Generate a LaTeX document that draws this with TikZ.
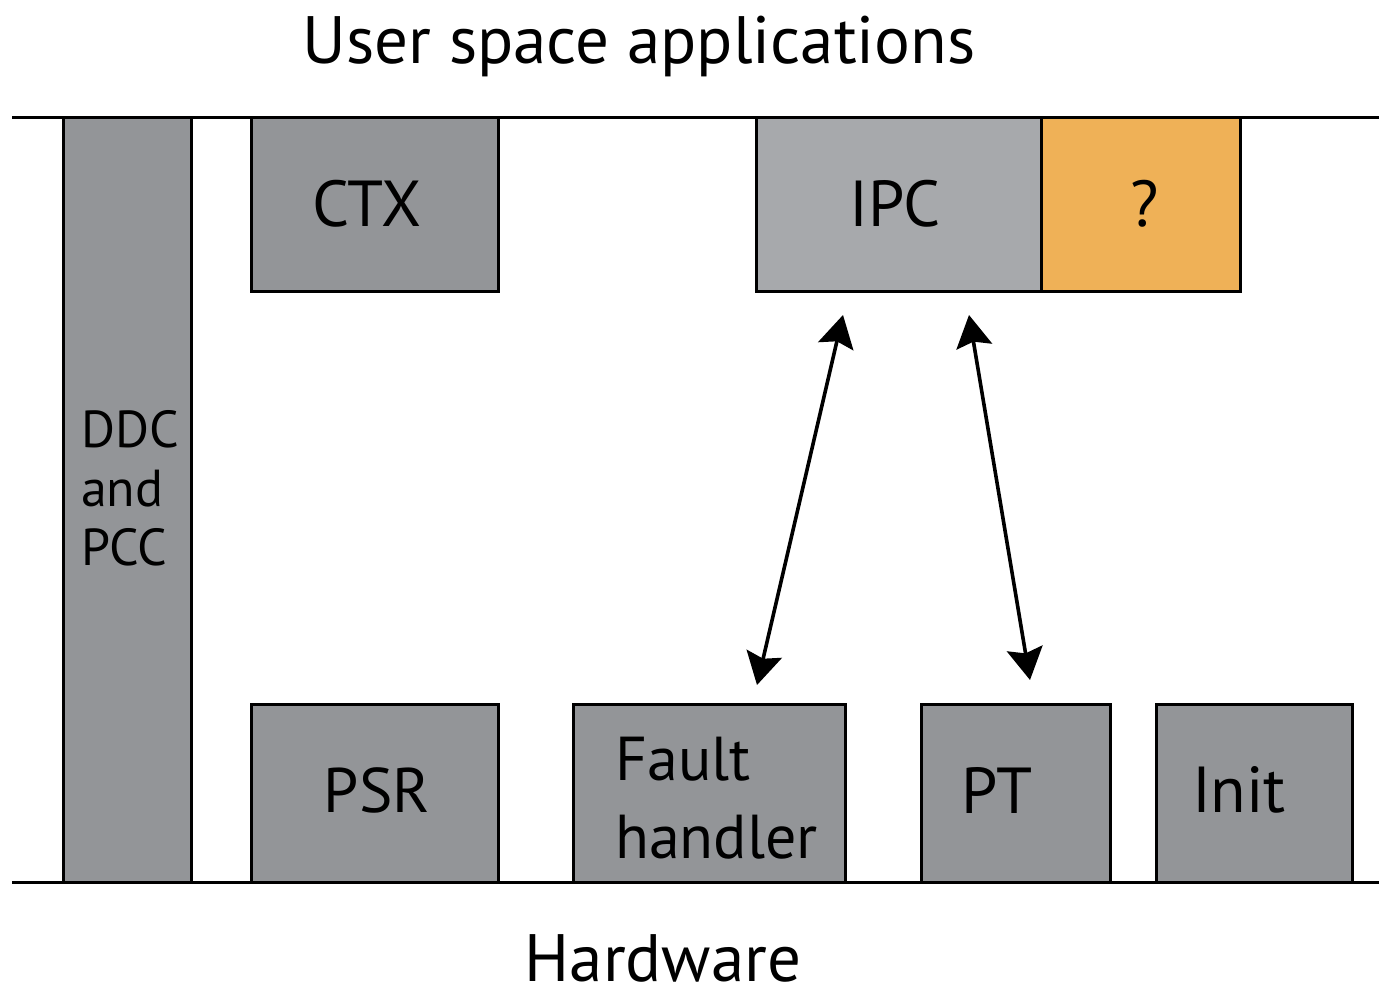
\documentclass[tikz,border=0pt]{standalone}
\usepackage{fontspec}
\setmainfont{PT Sans}
\usetikzlibrary{arrows.meta}
\definecolor{boxgray}{HTML}{939598}
\definecolor{lightgray}{HTML}{A7A9AC}
\definecolor{amber}{HTML}{EFB157}
\tikzset{
  blk/.style={draw=black, line width=3pt, fill=boxgray, inner sep=0pt, outer sep=0pt, anchor=north west},
  lbl/.style={font=\fontsize{65}{68}\selectfont, inner sep=0pt, text=black},
  rail/.style={line width=3pt},
  ipclink/.style={line width=3.6pt, arrows={Stealth[length=32pt,width=36pt,inset=5pt]-Stealth[length=32pt,width=36pt,inset=5pt]}}
}
\begin{document}
\begin{tikzpicture}[x=1pt, y=-1pt]
  \useasboundingbox (0,0) rectangle (1379,989);
  % boxes
  \node[blk, minimum width=128pt, minimum height=765pt] (ddc) at (63,117) {};
  \node[blk, minimum width=247pt, minimum height=174pt] (ctx) at (251,117) {};
  \node[blk, fill=lightgray, minimum width=285pt, minimum height=174pt] (ipc) at (756,117) {};
  \node[blk, fill=amber, minimum width=199pt, minimum height=174pt] (unk) at (1041,117) {};
  \node[blk, minimum width=247pt, minimum height=178pt] (psr) at (251,704) {};
  \node[blk, minimum width=272pt, minimum height=178pt] (fault) at (573,704) {};
  \node[blk, minimum width=189pt, minimum height=178pt] (pt) at (921,704) {};
  \node[blk, minimum width=196pt, minimum height=178pt] (init) at (1156,704) {};
  % kernel boundaries
  \draw[rail] (12,117) coordinate (topL) -- (1379,117) coordinate (topR);
  \draw[rail] (12,882) coordinate (botL) -- (1379,882) coordinate (botR);
  % labels
  \node[lbl] (ctxt) at (367,204) {CTX};
  \node[lbl] (ipct) at (895,204) {IPC};
  \node[lbl] (unkt) at (1145,204) {?};
  \node[lbl, font=\fontsize{63}{66}\selectfont] (psrt) at (377,790) {PSR};
  \node[lbl] (ptt) at (997,790) {PT};
  \node[lbl] (initt) at (1239,790) {Init};
  \node[lbl, anchor=west, align=left, font=\fontsize{62}{78}\selectfont] (faultt) at (615,798) {Fault\\handler};
  \node[anchor=west, align=left, inner sep=0pt, font=\fontsize{52}{59}\selectfont] (ddct) at (81,488) {DDC\\and\\PCC};
  \node[lbl, anchor=base, font=\fontsize{67}{70}\selectfont] (user) at (639,63) {User space applications};
  \node[lbl, anchor=base, font=\fontsize{67}{70}\selectfont] (hw) at (663,981) {Hardware};
  % IPC links
  \coordinate (f1) at (757,685);
  \coordinate (i1) at (843,315);
  \coordinate (p1) at (1030,680);
  \coordinate (i2) at (969,315);
  \draw[ipclink] (f1) -- (i1);
  \draw[ipclink] (p1) -- (i2);
\end{tikzpicture}
\end{document}
